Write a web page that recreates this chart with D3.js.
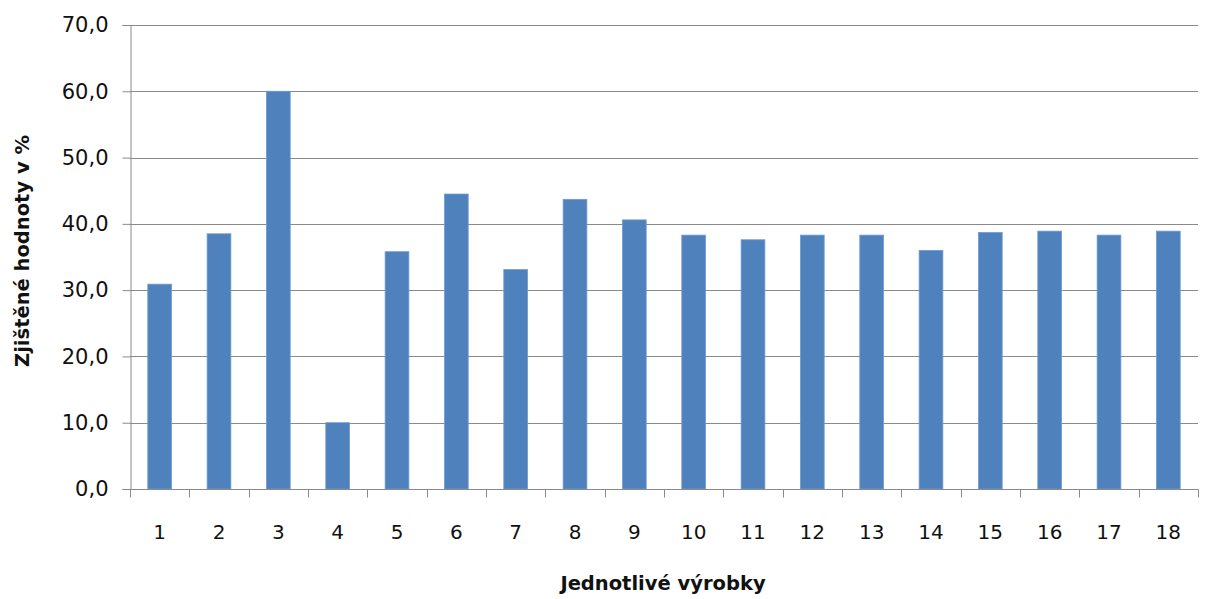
<!DOCTYPE html>
<html>
<head>
<meta charset="utf-8">
<script src="https://cdn.jsdelivr.net/npm/d3@7"></script>
<style>
  html, body { margin: 0; padding: 0; background: #fff; }
  svg { display: block; }
  text { font-family: "DejaVu Sans", "Noto Sans", sans-serif; fill: #111; }
</style>
</head>
<body>
<svg id="chart" width="1205" height="599"></svg>
<script>
// Measured values per product
const categories = ["1","2","3","4","5","6","7","8","9","10","11","12","13","14","15","16","17","18"];
const values = [30.9, 38.5, 60.0, 10.0, 35.8, 44.5, 33.1, 43.7, 40.6, 38.3, 37.6, 38.3, 38.3, 36.0, 38.7, 38.9, 38.3, 38.9];
const yTicks = [0, 10, 20, 30, 40, 50, 60, 70];
const yTitle = "Zjištěné hodnoty v %";
const xTitle = "Jednotlivé výrobky";

const svg = d3.select("#chart");
const plotLeft = 130, plotRight = 1198, plotTop = 25, plotBottom = 489;

const x = d3.scaleBand()
  .domain(categories)
  .range([plotLeft, plotRight])
  .paddingInner(0.6)
  .paddingOuter(0.3);

const y = d3.scaleLinear().domain([0, 70]).range([plotBottom, plotTop]);

const fmt = v => v.toFixed(1).replace(".", ",");

// Horizontal gridlines
svg.append("g")
  .selectAll("line")
  .data(yTicks.filter(t => t > 0))
  .join("line")
  .attr("x1", plotLeft).attr("x2", plotRight)
  .attr("y1", d => Math.round(y(d)) + 0.5)
  .attr("y2", d => Math.round(y(d)) + 0.5)
  .attr("stroke", "#8a8a8a")
  .attr("stroke-width", 1);

// Bars
svg.append("g")
  .selectAll("rect")
  .data(values)
  .join("rect")
  .attr("x", (d, i) => x(categories[i]))
  .attr("width", x.bandwidth())
  .attr("y", d => y(d))
  .attr("height", d => y(0) - y(d))
  .attr("fill", "#4f81bd")
  .attr("stroke", "#6f9bd1")
  .attr("stroke-width", 0.8);

// Y axis
const yAxis = d3.axisLeft(y)
  .tickValues(yTicks)
  .tickSize(8)
  .tickPadding(14)
  .tickFormat(fmt);

const gy = svg.append("g")
  .attr("transform", `translate(${plotLeft + 0.5},0)`)
  .call(yAxis);
gy.select(".domain").attr("stroke", "#8a8a8a");
gy.selectAll(".tick line").attr("stroke", "#8a8a8a");
gy.selectAll(".tick text")
  .style("font-size", "21px")
  .style("font-family", "'DejaVu Sans', sans-serif")
  .attr("fill", "#111");

// X axis with ticks at category boundaries
const step = x.step();
const boundaries = d3.range(categories.length + 1).map(i => plotLeft + i * step);

const gx = svg.append("g").attr("transform", `translate(0,${Math.round(plotBottom) + 0.5})`);
gx.append("line")
  .attr("x1", plotLeft).attr("x2", plotRight)
  .attr("stroke", "#8a8a8a");
gx.selectAll("line.bt")
  .data(boundaries)
  .join("line")
  .attr("class", "bt")
  .attr("x1", d => Math.round(d) + 0.5).attr("x2", d => Math.round(d) + 0.5)
  .attr("y1", 0).attr("y2", 8)
  .attr("stroke", "#8a8a8a");
gx.selectAll("text")
  .data(categories)
  .join("text")
  .attr("x", d => x(d) + x.bandwidth() / 2)
  .attr("y", 49)
  .attr("text-anchor", "middle")
  .style("font-size", "20px")
  .text(d => d);

// Axis titles
svg.append("text")
  .attr("transform", `translate(29,251) rotate(-90)`)
  .attr("text-anchor", "middle")
  .style("font-size", "19.5px")
  .style("font-weight", "bold")
  .text(yTitle);

svg.append("text")
  .attr("x", 663)
  .attr("y", 590)
  .attr("text-anchor", "middle")
  .style("font-size", "19.5px")
  .style("font-weight", "bold")
  .text(xTitle);
</script>
</body>
</html>
